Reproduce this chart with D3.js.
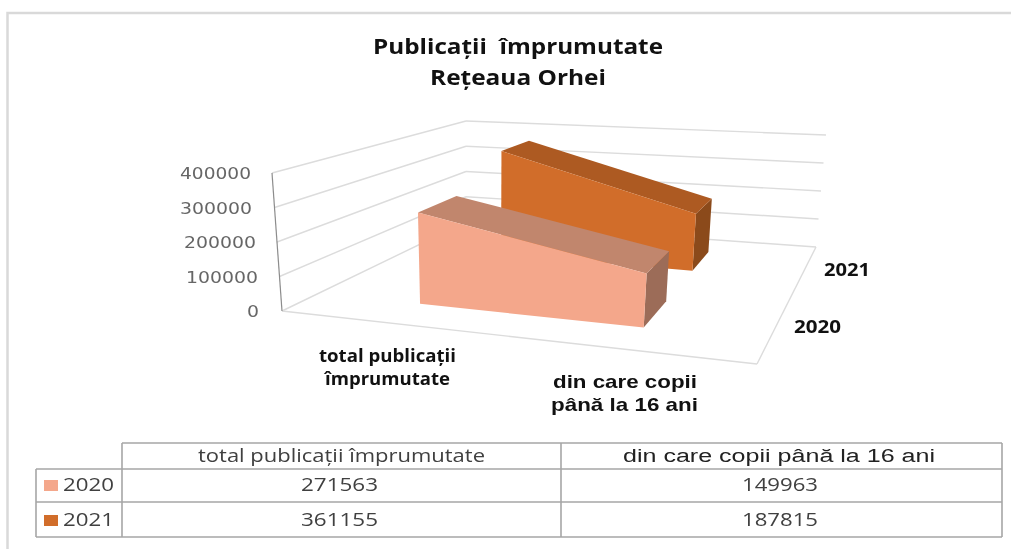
<!DOCTYPE html>
<html>
<head>
<meta charset="utf-8">
<title>Publicații împrumutate</title>
<script src="https://cdnjs.cloudflare.com/ajax/libs/d3/7.8.5/d3.min.js"></script>
<style>
  html, body { margin: 0; padding: 0; background: #fff; overflow: hidden; }
  svg { display: block; filter: blur(0.45px); }
</style>
</head>
<body>
<div id="chart"></div>
<script>
// Data
var titleLines = ["Publicații  împrumutate", "Rețeaua Orhei"];
var categories = ["total publicații împrumutate", "din care copii până la 16 ani"];
var years = ["2020", "2021"];
var values2020 = [271563, 149963];
var values2021 = [361155, 187815];
var valueTicks = [0, 100000, 200000, 300000, 400000];

const width = 1011, height = 549;

var svg = d3.select("#chart").append("svg")
  .attr("width", width)
  .attr("height", height);

// ******* 3D box: the eight corners of the plot on screen *******
const corners = {
  floor: { fl: [282, 311], fr: [757, 364], bl: [466, 222], br: [816, 247] },
  top:   { fl: [272, 173], fr: [772, 206], bl: [466, 121], br: [826, 135] }
};

// scales go to 0..1 inside the box
var xScale = d3.scalePoint().domain(categories).range([0.225, 0.722]);
// depth is foreshortened so the slots are not even: gap, 2020, gap, 2021, gap
var depthScale = d3.scaleLinear().domain([0, 1, 2, 3, 4, 5]).range([0, 0.2, 0.44, 0.72, 0.89, 1]);
var zScale = d3.scaleLinear().domain([0, 400000]).range([0, 1]);

function mix(a, b, t) { return a + (b - a) * t; }

function bilinear(c, u, v, k) {
  return mix(mix(c.fl[k], c.fr[k], u), mix(c.bl[k], c.br[k], u), v);
}

function project(u, v, z) {
  return [0, 1].map(function(k) {
    return mix(bilinear(corners.floor, u, v, k), bilinear(corners.top, u, v, k), z);
  });
}

function face(points, fill) {
  svg.append("polygon")
    .attr("points", points.map(function(p) { return p.join(","); }).join(" "))
    .attr("fill", fill);
}

function edge(a, b, color, w) {
  svg.append("line")
    .attr("x1", a[0]).attr("y1", a[1])
    .attr("x2", b[0]).attr("y2", b[1])
    .attr("stroke", color)
    .attr("stroke-width", w);
}

// text with a fixed drawn width, the source image is stretched sideways
function label(str, x, y, size, w, opts) {
  opts = opts || {};
  svg.append("text")
    .attr("x", x)
    .attr("y", y)
    .attr("font-family", opts.family || "'Open Sans', sans-serif")
    .attr("font-weight", opts.weight || "normal")
    .attr("font-size", size)
    .attr("fill", opts.fill || "#404040")
    .attr("textLength", w)
    .attr("lengthAdjust", "spacingAndGlyphs")
    .style("white-space", "pre")
    .text(str);
}

// ******* Page frame *******
svg.append("path")
  .attr("d", "M7.5,549V13H1011")
  .attr("fill", "none")
  .attr("stroke", "#d9d9d9")
  .attr("stroke-width", 2.5);

// ******* Title *******
label(titleLines[0], 373, 54, 22, 290, { weight: "bold", fill: "#111" });
label(titleLines[1], 430, 85, 22, 176, { weight: "bold", fill: "#111" });

// ******* Walls and floor *******
const gridColor = "#dcdcdc";
valueTicks.forEach(function(t) {
  var z = zScale(t);
  edge(project(0, 0, z), project(0, 1, z), gridColor, 1.4);
  edge(project(0, 1, z), project(1, 1, z), gridColor, 1.4);
});
edge(project(0, 0, 0), project(1, 0, 0), gridColor, 1.4);
edge(project(1, 0, 0), project(1, 1, 0), gridColor, 1.4);
edge(project(0, 0, 0), project(0, 0, 1), "#8c8c8c", 1.2);

// value labels follow the slant of the left wall
const tickEnds = [259, 258, 256, 252, 251],
      tickWidths = [12, 72, 72, 72, 71];
valueTicks.forEach(function(t, i) {
  var p = project(0, 0, zScale(t));
  label(String(t), tickEnds[i] - tickWidths[i], p[1] + 6, 15, tickWidths[i], {
    family: "'DejaVu Sans', sans-serif", fill: "#666"
  });
});

// ******* Wedges, back series first *******
function wedge(values, slot, colors) {
  var v0 = depthScale(slot), v1 = depthScale(slot + 1);
  var u0 = xScale(categories[0]), u1 = xScale(categories[1]);
  var z0 = zScale(values[0]), z1 = zScale(values[1]);
  // side
  face([project(u1, v0, 0), project(u1, v1, 0), project(u1, v1, z1), project(u1, v0, z1)], colors.side);
  // top
  face([project(u0, v0, z0), project(u0, v1, z0), project(u1, v1, z1), project(u1, v0, z1)], colors.top);
  // front
  face([project(u0, v0, 0), project(u1, v0, 0), project(u1, v0, z1), project(u0, v0, z0)], colors.front);
}

const color2020 = { front: "#f4a78b", top: "#c1866d", side: "#9c6c58" };
const color2021 = { front: "#d16d2a", top: "#ad5a22", side: "#8b4a1b" };

wedge(values2021, 3, color2021);
wedge(values2020, 1, color2020);

// ******* Category and series labels *******
var bold = { weight: "bold", fill: "#111" };
var boldArial = { weight: "bold", fill: "#111", family: "'Liberation Sans', sans-serif" };
label("total publicații", 319, 362, 17, 137, bold);
label("împrumutate", 325, 385, 17, 125, bold);
label("din care copii", 553, 388, 19, 144, boldArial);
label("până la 16 ani", 551, 411, 19, 147, boldArial);
label(years[1], 824, 276, 18, 46, bold);
label(years[0], 794, 333, 18, 47, bold);

// ******* Data table *******
const tableLines = "#a6a6a6";
const colX = [36, 122, 561, 1002],
      rowY = [443, 469, 502, 537];

edge([colX[1], rowY[0]], [colX[3], rowY[0]], tableLines, 1.6);
edge([colX[0], rowY[1]], [colX[3], rowY[1]], tableLines, 1.6);
edge([colX[0], rowY[2]], [colX[3], rowY[2]], tableLines, 1.6);
edge([colX[0], rowY[3]], [colX[3], rowY[3]], tableLines, 1.6);
edge([colX[0], rowY[1]], [colX[0], rowY[3]], tableLines, 1.6);
edge([colX[1], rowY[0]], [colX[1], rowY[3]], tableLines, 1.6);
edge([colX[2], rowY[0]], [colX[2], rowY[3]], tableLines, 1.6);
edge([colX[3], rowY[0]], [colX[3], rowY[3]], tableLines, 1.6);

label(categories[0], 198, 462, 18, 287);
label(categories[1], 623, 462, 18, 312, { family: "'Liberation Sans', sans-serif", fill: "#222" });

[values2020, values2021].forEach(function(row, r) {
  var mid = r == 0 ? 485 : 520;
  svg.append("rect")
    .attr("x", 44).attr("y", mid - 5)
    .attr("width", 14).attr("height", 11)
    .attr("fill", r == 0 ? color2020.front : color2021.front);
  label(years[r], 63, mid + 6, 18, 51);
  label(String(row[0]), 301, mid + 6, 18, 77);
  label(String(row[1]), 742, mid + 6, 18, 76);
});
</script>
</body>
</html>
